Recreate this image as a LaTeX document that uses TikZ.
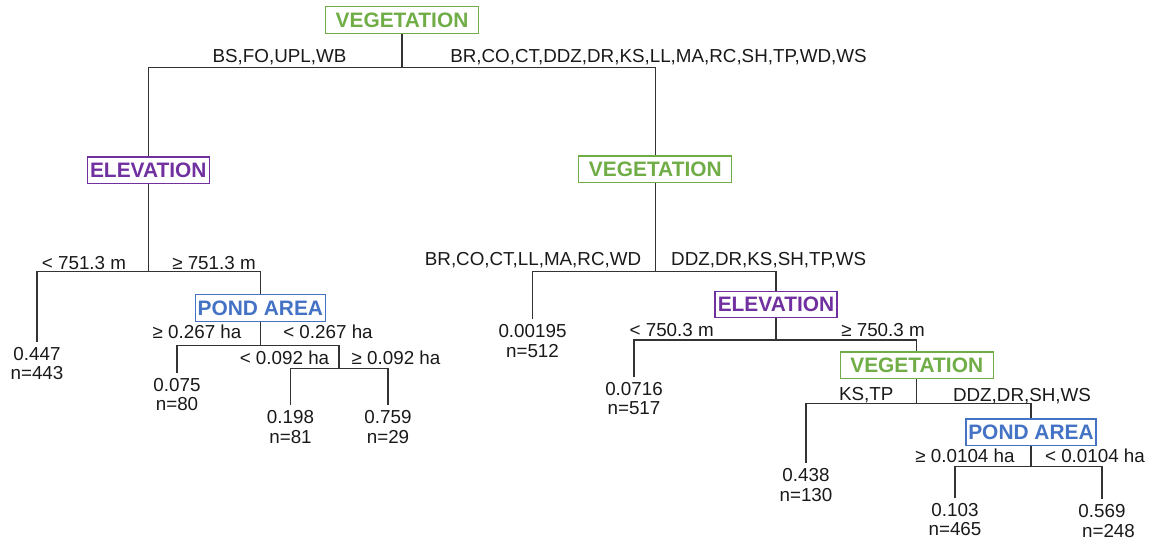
\documentclass[tikz,border=0pt]{standalone}
\usepackage{fontspec}
\setmainfont{Liberation Sans}
\definecolor{vgreen}{HTML}{70AD47}
\definecolor{epurple}{HTML}{7030A0}
\definecolor{pblue}{HTML}{4472C4}
\begin{document}
\begin{tikzpicture}[x=1pt,y=-1pt,
  box/.style={draw, line width=1.2pt, inner sep=0pt, minimum height=26.5pt,
    font=\fontsize{20.9}{24}\selectfont\bfseries},
  vegbox/.style={box, draw=vgreen, text=vgreen, minimum width=153pt},
  elevbox/.style={box, draw=epurple, text=epurple, minimum width=122pt},
  pondbox/.style={box, draw=pblue, text=pblue, minimum width=130pt},
  elab/.style={inner sep=0pt, anchor=base, font=\fontsize{18.8}{22}\selectfont, text=black!90},
  leaf/.style={inner xsep=0pt, inner ysep=5pt, anchor=base, align=center,
    font=\fontsize{18.8}{19.5}\selectfont, text=black!90},
  tree/.style={draw=black!80, line width=1.2pt}]
\useasboundingbox (0,0) rectangle (1151,542);

% decision boxes
\node[vegbox]  (v1) at (402,20)      {VEGETATION};
\node[elevbox] (e1) at (148.3,170.3) {ELEVATION};
\node[vegbox]  (v2) at (655.3,169.2) {VEGETATION};
\node[pondbox] (p1) at (260.4,308)   {POND AREA};
\node[elevbox] (e2) at (776,304.5)   {ELEVATION};
\node[vegbox]  (v3) at (916.7,365.3) {VEGETATION};
\node[pondbox] (p2) at (1031,432.3)  {POND AREA};

% leaves (anchor base = baseline of the last line)
\node[leaf] (l1) at (37,379.5)     {0.447\\n=443};
\node[leaf] (l2) at (177,410.7)    {0.075\\n=80};
\node[leaf] (l3) at (290.5,443)    {0.198\\n=81};
\node[leaf] (l4) at (388,443)      {0.759\\n=29};
\node[leaf] (l5) at (532.5,357.3)  {0.00195\\n=512};
\node[leaf] (l6) at (634,414.7)    {0.0716\\n=517};
\node[leaf] (l7) at (806,501)      {0.438\\n=130};
\node[leaf] (l8) at (955,535.5)    {0.103\\n=465};
\node[leaf] (l9) at (1102,537)     {0.569\\\hspace*{13pt}n=248};

% junctions
\coordinate (j1) at (402,67.3);
\coordinate (j2) at (148.3,271.7);
\coordinate (j3) at (260.4,345.7);
\coordinate (j4) at (339,368.7);
\coordinate (j5) at (655.3,271.7);
\coordinate (j6) at (776,340);
\coordinate (j7) at (916.7,403.3);
\coordinate (j8) at (1031,466.7);

% connectors
\draw[tree] (v1.south) -- (j1);
\draw[tree] (e1.north) |- (j1) -| (v2.north);
\draw[tree] (e1.south) -- (j2);
\draw[tree] (l1.north) |- (j2) -| (p1.north);
\draw[tree] (p1.south) -- (j3);
\draw[tree] (l2.north) |- (j3) -| (j4);
\draw[tree] (l3.north) |- (j4) -| (l4.north);
\draw[tree] (v2.south) -- (j5);
\draw[tree] (l5.north) |- (j5) -| (e2.north);
\draw[tree] (e2.south) -- (j6);
\draw[tree] (l6.north) |- (j6) -| (v3.north);
\draw[tree] (v3.south) -- (j7);
\draw[tree] (l7.north) |- (j7) -| (p2.north);
\draw[tree] (p2.south) -- (j8);
\draw[tree] (l8.north) |- (j8) -| (l9.north);

% edge labels
\node[elab] (a1) at (279.5,62.3) {BS,FO,UPL,WB};
\node[elab] (a2) at (658.5,62.3) {BR,CO,CT,DDZ,DR,KS,LL,MA,RC,SH,TP,WD,WS};
\node[elab] (a3) at (84,269.3)   {< 751.3 m};
\node[elab] (a4) at (214,269.3)  {≥ 751.3 m};
\node[elab] (a5) at (197,338.3)  {≥ 0.267 ha};
\node[elab] (a6) at (328,338.3)  {< 0.267 ha};
\node[elab] (a7) at (284.5,364.3){< 0.092 ha};
\node[elab] (a8) at (396,364.3)  {≥ 0.092 ha};
\node[elab] (a9) at (533,265)    {BR,CO,CT,LL,MA,RC,WD};
\node[elab] (a10) at (768.7,265) {DDZ,DR,KS,SH,TP,WS};
\node[elab] (a11) at (671.7,336.7){< 750.3 m};
\node[elab] (a12) at (883,336)   {≥ 750.3 m};
\node[elab] (a13) at (866.3,400) {KS,TP};
\node[elab] (a14) at (1022,401.3){DDZ,DR,SH,WS};
\node[elab] (a15) at (965,462.7) {≥ 0.0104 ha};
\node[elab] (a16) at (1095,462.7){< 0.0104 ha};
\end{tikzpicture}
\end{document}
